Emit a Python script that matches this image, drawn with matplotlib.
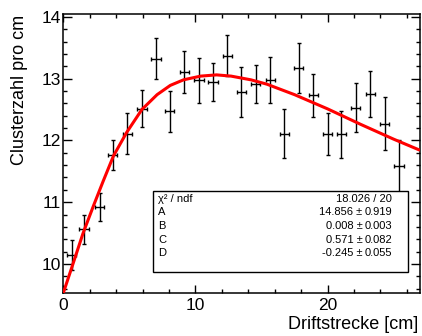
import numpy as np
import matplotlib
matplotlib.use("Agg")
import matplotlib.pyplot as plt
from matplotlib.patches import Rectangle

plt.rcParams['font.family'] = ['Liberation Sans', 'DejaVu Sans']

# data points (Clusterzahl pro cm vs Driftstrecke)
x_pts = [0.64, 1.57, 2.75, 3.75, 4.85, 5.96, 7.02, 8.05, 9.17, 10.28, 11.34, 12.40,
         13.48, 14.57, 15.68, 16.74, 17.83, 18.92, 20.00, 21.03, 22.14, 23.23, 24.32, 25.40]
y_pts = [10.15, 10.56, 10.92, 11.76, 12.11, 12.51, 13.32, 12.47, 13.10, 12.97, 12.95, 13.37,
         12.78, 12.91, 12.98, 12.11, 13.17, 12.73, 12.10, 12.10, 12.53, 12.75, 12.27, 11.58]
y_err = [0.24, 0.23, 0.23, 0.24, 0.33, 0.30, 0.33, 0.33, 0.34, 0.36, 0.31, 0.33,
         0.40, 0.31, 0.37, 0.40, 0.41, 0.35, 0.34, 0.38, 0.40, 0.37, 0.43, 0.43]
x_err = 0.35

# fit curve
curve_x = [0.0, 0.7, 1.5, 2.3, 3.0, 3.8, 4.8, 5.95, 7.1, 8.1, 9.1, 10.4, 11.6, 12.7,
           14.2, 15.4, 17.5, 20.0, 22.5, 25.0, 27.0]
curve_y = [9.53, 9.98, 10.50, 10.95, 11.33, 11.75, 12.13, 12.50, 12.74, 12.89, 12.98, 13.04,
           13.06, 13.04, 12.98, 12.91, 12.74, 12.51, 12.26, 12.02, 11.84]

# stat box
stat_names = ['\u03c7\u00b2 / ndf', 'A', 'B', 'C', 'D']
stat_vals = ['14.856', '0.008', '0.571', '-0.245']
stat_errs = ['0.919', '0.003', '0.082', '0.055']
chi2_text = '18.026 / 20'

fig = plt.figure(figsize=(4.22, 3.36), dpi=100)
ax = fig.add_axes([0.150, 0.1289, 0.8453, 0.8294])

ax.errorbar(x_pts, y_pts, xerr=x_err, yerr=y_err, fmt='none', ecolor='black',
            elinewidth=1.0, capsize=1.5, capthick=1.0, zorder=2)
ax.plot(curve_x, curve_y, color='red', lw=2.2, zorder=3, solid_capstyle='butt')

ax.set_xlim(0, 27.0)
ax.set_ylim(9.535, 14.045)
ax.set_xticks([0, 10, 20])
ax.set_xticks(np.arange(0, 27, 2), minor=True)
ax.set_yticks([10, 11, 12, 13, 14])
ax.set_yticks(np.arange(9.6, 14.05, 0.2), minor=True)
ax.tick_params(which='both', direction='in', top=True, right=True, width=1.0, labelsize=12.5)
ax.tick_params(axis='x', which='major', length=5.8, pad=4)
ax.tick_params(axis='x', which='minor', length=2.9)
ax.tick_params(axis='y', which='major', length=6.5, pad=2)
ax.tick_params(axis='y', which='minor', length=3.2)
for s in ax.spines.values():
    s.set_linewidth(1.1)

fig.text(0.047, 0.955, 'Clusterzahl pro cm', rotation=90, ha='center', va='top', fontsize=13)
fig.text(0.991, 0.033, 'Driftstrecke [cm]', ha='right', va='center', fontsize=13)

# stats box
fig.patches.append(Rectangle((0.3626, 0.1905), 0.6042, 0.241, transform=fig.transFigure,
                             facecolor='white', edgecolor='black', lw=1.0, zorder=5))
row_y = [0.4092, 0.3685, 0.3277, 0.2869, 0.2461]
fs = 8
for i, name in enumerate(stat_names):
    fig.text(0.3751, row_y[i], name, ha='left', va='center', fontsize=fs, zorder=6)
fig.text(0.9296, row_y[0], chi2_text, ha='right', va='center', fontsize=fs, zorder=6)
for i in range(4):
    fig.text(0.8585, row_y[i + 1], stat_vals[i] + ' \u00b1', ha='right', va='center',
             fontsize=fs, zorder=6)
    fig.text(0.9296, row_y[i + 1], stat_errs[i], ha='right', va='center', fontsize=fs, zorder=6)

plt.savefig('out.png', dpi=100)
